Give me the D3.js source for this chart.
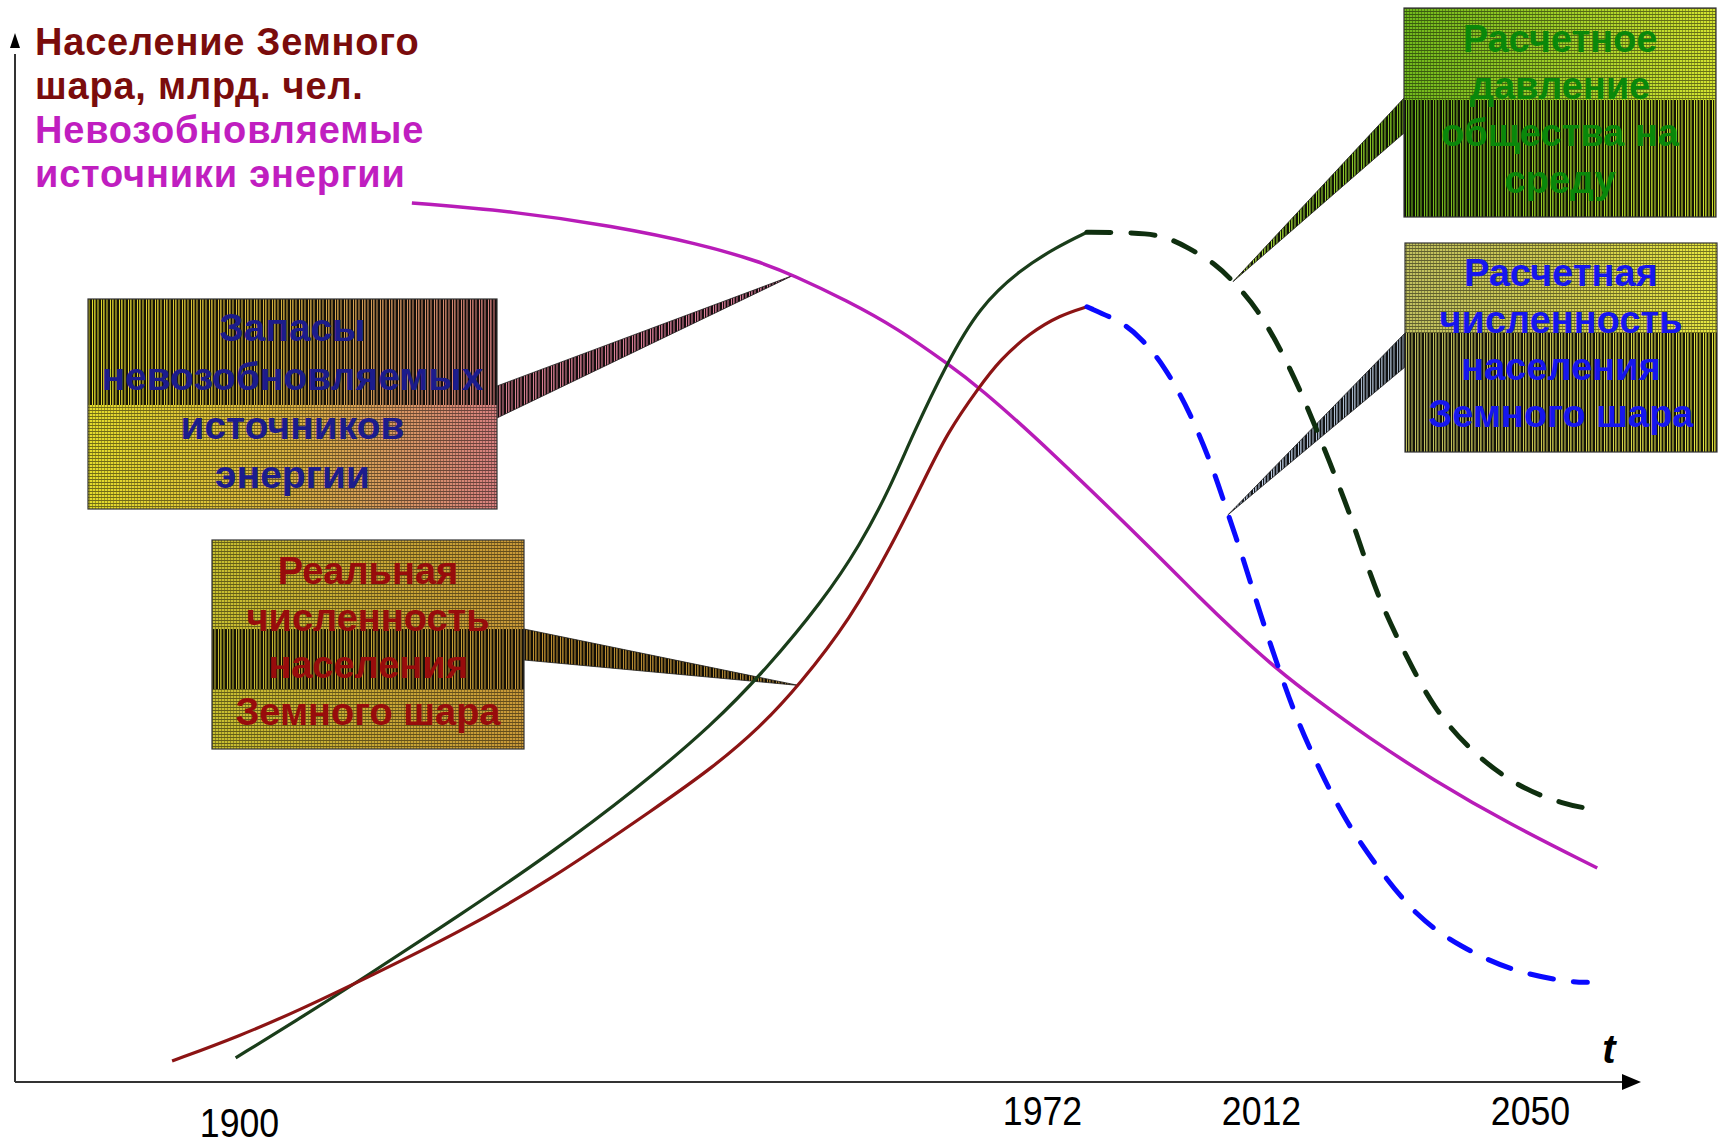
<!DOCTYPE html>
<html><head><meta charset="utf-8">
<script src="https://cdnjs.cloudflare.com/ajax/libs/d3/7.8.5/d3.min.js"></script>
<style>body{margin:0;background:#fff}svg{display:block}</style>
</head><body>
<svg id="chart" width="1719" height="1147"></svg>
<script>
// ---- data ----
const tickYears = [1900, 1972, 2012, 2050];

const realYears  = [1894.0,1900.1,1905.5,1911.0,1919.8,1927.7,1937.6,1942.5,1946.7,1950.2,1954.8,1958.6,1961.3,1963.5,1966.4,1968.2,1970.9,1975.3,1980.2];
const realValues = [2.0,4.4,6.9,9.7,14.3,19.1,26.3,30.0,33.8,37.8,44.1,51.3,57.1,61.9,66.3,68.8,71.4,73.1,73.9];

const forecastYears  = [1980.2,1986.8,1989.9,1994.1,1999.0,2003.2,2006.3,2008.7,2011.8,2014.7,2017.1,2020.3,2024.1,2028.4,2034.0,2040.1,2047.6,2055.7,2058.1];
const forecastValues = [73.9,72.4,71.0,68.5,63.9,58.6,53.6,50.0,44.7,39.0,34.5,29.7,24.7,20.5,15.7,12.9,10.5,9.5,9.5];

const pressureYears  = [1899.7,1905.5,1911.0,1919.8,1927.7,1935.6,1942.5,1947.3,1952.3,1955.7,1958.4,1960.4,1963.5,1966.4,1970.0,1974.7,1980.2];
const pressureValues = [2.3,6.1,9.8,15.9,21.6,27.9,34.1,39.4,45.8,51.2,56.7,61.7,68.6,73.9,77.4,79.6,81.0];

const pressureFcYears  = [1980.2,1985.0,1991.2,1994.9,1998.5,2004.0,2006.9,2011.3,2015.4,2018.6,2021.7,2024.6,2026.4,2029.1,2032.6,2036.3,2041.5,2048.2,2055.2,2058.1];
const pressureFcValues = [81.0,81.0,80.9,80.5,79.6,77.9,76.3,73.8,69.1,64.3,59.1,54.1,50.4,45.3,40.5,35.7,31.6,28.1,26.4,26.1];

const energyYears  = [1915.5,1924.6,1933.5,1941.3,1946.7,1949.7,1954.5,1959.1,1963.5,1966.4,1972.9,1993.6,2000.9,2006.9,2014.3,2019.9,2027.0,2036.3,2046.8,2059.5];
const energyValues = [83.8,83.0,81.6,79.9,78.2,76.9,74.5,71.8,68.5,66.2,60.5,50.0,46.1,43.1,39.3,36.4,32.9,28.8,24.7,20.4];

const headerLines = ["Население Земного", "шара, млрд. чел.", "Невозобновляемые", "источники энергии"];
const calloutEnergy   = ["Запасы", "невозобновляемых", "источников", "энергии"];
const calloutReal     = ["Реальная", "численность", "населения", "Земного шара"];
const calloutPressure = ["Расчетное", "давление", "общества на", "среду"];
const calloutForecast = ["Расчетная", "численность", "населения", "Земного шара"];
const calloutAnchorYears = [1949.7, 1950.2, 2006.9, 2006.0];
const axisLabel = "t";

// ---- scales ----
const svg = d3.select("#chart");
const x = d3.scaleLinear().domain(tickYears).range([239, 1042, 1261, 1530]);
const y = d3.scaleLinear().domain([0, 100]).range([1082, 33]);

const defs = svg.append("defs");
const vs = defs.append("pattern").attr("id","vstripe").attr("patternUnits","userSpaceOnUse").attr("width",9).attr("height",9);
[[0,2],[3,1.2],[5.5,1.6],[7.6,0.9]].forEach(([px,w])=>vs.append("rect").attr("x",px).attr("y",0).attr("width",w).attr("height",9).attr("fill","#000").attr("opacity",0.9));
const gr = defs.append("pattern").attr("id","grid").attr("patternUnits","userSpaceOnUse").attr("width",3).attr("height",3);
gr.append("rect").attr("x",0).attr("y",2).attr("width",3).attr("height",1).attr("fill","#000").attr("opacity",0.5);
gr.append("rect").attr("x",2).attr("y",0).attr("width",1).attr("height",2).attr("fill","#000").attr("opacity",0.3);

function grad(id, stops){
  const g = defs.append("linearGradient").attr("id",id).attr("x1",0).attr("x2",1).attr("y1",0).attr("y2",0);
  stops.forEach((c,i)=>g.append("stop").attr("offset",i/(stops.length-1)).attr("stop-color",c));
}
grad("g1", ["#e4dc2c","#d8b040","#d88080"]);
grad("g2", ["#c8c030","#c8a834","#c89838"]);
grad("g3", ["#70b81c","#a0d028","#d4e430"]);
grad("g4", ["#c0c060","#d0cc50","#e8e840"]);
grad("p1", ["#d88090","#e080a0"]);
grad("p2", ["#c09030","#b08838"]);
grad("p3", ["#b0e040","#80c020"]);
grad("p4", ["#c8d8f0","#a0b0c0"]);

function interp(xs, ys, v){
  const i = Math.max(1, Math.min(xs.length-1, d3.bisectLeft(xs, v)));
  const t = (v - xs[i-1])/(xs[i]-xs[i-1]);
  return ys[i-1] + t*(ys[i]-ys[i-1]);
}

// callouts
function callout(o){
  const g = svg.append("g");
  const ax = x(o.anchor[0]), ay = y(o.anchor[1]);
  const bx = o.side === "right" ? o.x + o.w : o.x;
  const pts = [[bx,o.py0],[ax,ay],[bx,o.py1]].map(p=>p.join(",")).join(" ");
  g.append("polygon").attr("points", pts).attr("fill", `url(#${o.pgrad})`);
  g.append("polygon").attr("points", pts).attr("fill", "url(#vstripe)").attr("stroke","#222").attr("stroke-width",0.8);
  g.append("rect").attr("x",o.x).attr("y",o.y).attr("width",o.w).attr("height",o.h).attr("fill",`url(#${o.grad})`);
  o.bands.forEach(([y0,y1,pat])=>{
    g.append("rect").attr("x",o.x).attr("y",y0).attr("width",o.w).attr("height",y1-y0).attr("fill",`url(#${pat})`);
  });
  g.append("rect").attr("x",o.x).attr("y",o.y).attr("width",o.w).attr("height",o.h)
    .attr("fill","none").attr("stroke","#333").attr("stroke-width",1.2);
  g.selectAll("text.c").data(o.lines).join("text")
    .attr("x", o.x + o.w/2).attr("y",(d,i)=>o.y + o.b0 + i*o.step)
    .attr("text-anchor","middle").attr("font-family","'Liberation Sans', Arial, sans-serif")
    .attr("font-weight","bold").attr("font-size",o.fs).attr("fill",o.color).text(d=>d);
}

callout({x:88,y:299,w:409,h:210,side:"right",py0:386,py1:418,pgrad:"p1",grad:"g1",
  anchor:[calloutAnchorYears[0], interp(energyYears,energyValues,calloutAnchorYears[0])],
  bands:[[299,405,"vstripe"],[405,509,"grid"]],lines:calloutEnergy,color:"#1c1c8c",b0:42,step:49,fs:39});
callout({x:212,y:540,w:312,h:209,side:"right",py0:629,py1:660,pgrad:"p2",grad:"g2",
  anchor:[calloutAnchorYears[1], interp(realYears,realValues,calloutAnchorYears[1])],
  bands:[[540,629,"grid"],[629,689,"vstripe"],[689,749,"grid"]],lines:calloutReal,color:"#980c0c",b0:44,step:47,fs:38});
callout({x:1404,y:8,w:312,h:209,side:"left",py0:98,py1:133,pgrad:"p3",grad:"g3",
  anchor:[calloutAnchorYears[2], interp(pressureFcYears,pressureFcValues,calloutAnchorYears[2])],
  bands:[[8,100,"grid"],[100,217,"vstripe"]],lines:calloutPressure,color:"#0a880a",b0:44,step:47,fs:38});
callout({x:1405,y:243,w:312,h:209,side:"left",py0:333,py1:367,pgrad:"p4",grad:"g4",
  anchor:[calloutAnchorYears[3], interp(forecastYears,forecastValues,calloutAnchorYears[3])],
  bands:[[243,333,"grid"],[333,452,"vstripe"]],lines:calloutForecast,color:"#1616ee",b0:43,step:47,fs:38});

// axes
const axCol = "#333";
svg.append("line").attr("x1",15).attr("y1",y(0)).attr("x2",15).attr("y2",y(98)).attr("stroke",axCol).attr("stroke-width",2);
svg.append("path").attr("d",`M15,${y(100)} L10,${y(100)+15} L20,${y(100)+15}Z`).attr("fill","#000");
svg.append("line").attr("x1",15).attr("y1",y(0)).attr("x2",1625).attr("y2",y(0)).attr("stroke",axCol).attr("stroke-width",2);
svg.append("path").attr("d",`M1641,${y(0)} L1622,${y(0)-8} L1622,${y(0)+8}Z`).attr("fill","#000");

const xAxis = svg.append("g").attr("transform",`translate(0,${y(0)})`)
  .call(d3.axisBottom(x).tickValues(tickYears).tickFormat(d3.format("d")).tickSize(0));
xAxis.select(".domain").remove();
xAxis.selectAll("text").attr("y", d => d === 1900 ? 40 : 28).attr("dy","0.36em")
  .attr("transform","scale(0.87,1)")
  .attr("font-family","'Liberation Sans',Arial,sans-serif")
  .attr("font-size",41).attr("fill","#000");

svg.append("text").attr("x",1609).attr("y",1063).attr("text-anchor","middle")
  .attr("font-family","'Liberation Sans',Arial,sans-serif").attr("font-style","italic").attr("font-weight","bold")
  .attr("font-size",40).text(axisLabel);

// header
svg.selectAll("text.h").data(headerLines).join("text").attr("class","h")
  .attr("x",35).attr("y",(d,i)=>55 + i*44)
  .attr("font-family","'Liberation Sans',Arial,sans-serif").attr("font-weight","bold")
  .attr("font-size",38).attr("letter-spacing",0.8)
  .attr("fill",(d,i)=> i < 2 ? "#7a0c0c" : "#c01ec0").text(d=>d);

// curves
const line = d3.line().x(d=>x(d[0])).y(d=>y(d[1])).curve(d3.curveBasis);
function curve(xs, ys, color, width, dash){
  const p = svg.append("path").datum(xs.map((v,i)=>[v, ys[i]])).attr("d", line)
    .attr("fill","none").attr("stroke",color).attr("stroke-width",width).attr("stroke-linejoin","round");
  if (dash) p.attr("stroke-dasharray",dash).attr("stroke-linecap","round");
}
curve(energyYears, energyValues, "#b81cb8", 3.5);
curve(pressureYears, pressureValues, "#1a3d1a", 3.2);
curve(realYears, realValues, "#8c1414", 3.2);
curve(forecastYears, forecastValues, "#0a0aff", 5, "24,20");
curve(pressureFcYears, pressureFcValues, "#0f2f0f", 5, "24,20");
</script>
</body></html>
